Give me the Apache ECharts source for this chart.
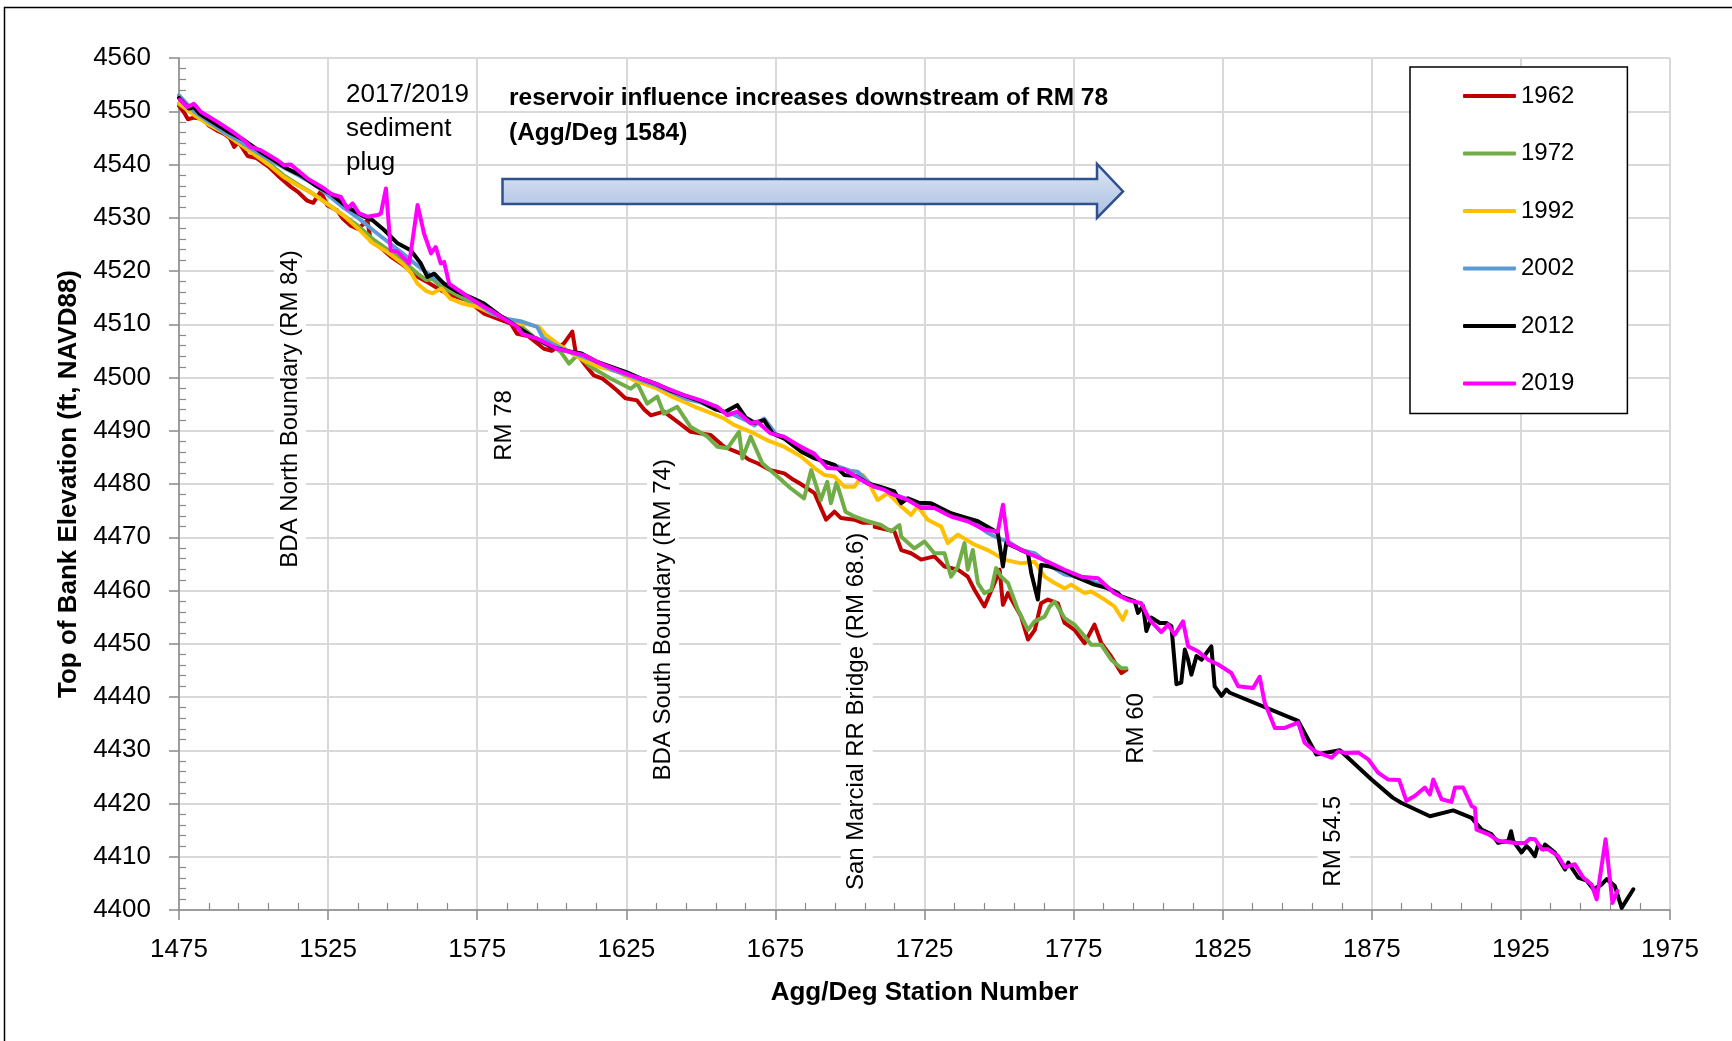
<!DOCTYPE html>
<html>
<head>
<meta charset="utf-8">
<script src="https://cdn.jsdelivr.net/npm/echarts@6/dist/echarts.min.js"></script>
<style>
  html, body { margin: 0; padding: 0; background: #fff; }
  #chart { width: 1732px; height: 1041px; }
</style>
</head>
<body>
<div id="chart"></div>
<script>
// Top-of-bank elevation profiles along the Agg/Deg stations, one array of
// [station, elevation (ft, NAVD88)] pairs per survey year.
const years = ['1962', '1972', '1992', '2002', '2012', '2019'];
const yearColors = ['#c00000', '#70ad47', '#ffc000', '#5b9bd5', '#000000', '#ff00ff'];

const tob1962 = [
  [1475,4551],[1477,4549.5],[1478,4548.5],[1480,4548.8],[1483,4548.6],[1485,4547.3],[1488,4546.3],[1490,4545.8],
  [1492,4545],[1493.5,4543.3],[1495,4544.2],[1498,4541.6],[1501,4541.2],[1505,4539.6],[1508,4538],[1510,4537],
  [1512.5,4535.8],[1515,4534.8],[1518,4533.2],[1520,4532.8],[1522.5,4534.9],[1524.8,4532.3],[1528,4531.4],[1530,4529.8],
  [1532.6,4528.5],[1535,4527.9],[1538.2,4529.5],[1539.3,4525.6],[1542,4524.7],[1546,4522.7],[1550,4521.2],[1555,4518.9],
  [1558,4518],[1562.8,4516.4],[1566,4515.5],[1571.8,4514.5],[1575,4513],[1577.3,4512],[1582,4511],[1586.3,4510.1],
  [1588.4,4508.2],[1592,4507.8],[1597.4,4505.4],[1600,4505],[1604.1,4506.4],[1606.9,4508.6],[1608,4504.8],[1611,4502.5],
  [1614.1,4500.4],[1617,4499.8],[1619.7,4498.6],[1622,4497.5],[1624.7,4496.1],[1628.6,4495.7],[1631,4494],[1633.2,4492.9],
  [1637.6,4493.6],[1642.1,4491.7],[1646.6,4489.8],[1650,4489.5],[1653.3,4489.2],[1657.8,4487],[1663.4,4485.7],[1666,4484.6],
  [1669,4483.9],[1673.4,4482.6],[1678,4482],[1680.5,4481],[1683.5,4480],[1688.1,4478.3],[1689.1,4477],[1692,4473.3],
  [1694.8,4474.8],[1697,4473.6],[1701.5,4473.3],[1706,4472.3],[1710.4,4471.7],[1714.9,4471.1],[1717.2,4467.6],[1720.5,4467],
  [1723.9,4465.8],[1728.3,4466.4],[1731.7,4464.5],[1736.2,4463.9],[1739.5,4462.6],[1741.8,4460.1],[1745.1,4457],[1748.5,4461.4],
  [1750.2,4463.9],[1751.3,4457.3],[1753,4459.5],[1757.4,4455.1],[1759.7,4450.8],[1762,4452.6],[1764.1,4457.6],[1766.4,4458.3],
  [1769.7,4457.6],[1772,4453.9],[1775.3,4452.6],[1778.7,4450.1],[1782,4453.6],[1784.3,4450.1],[1787.6,4447.6],[1791,4444.5],
  [1792.7,4445.1]
];

const tob1972 = [
  [1475,4551.3],[1480,4549.5],[1485,4547.5],[1490,4546],[1495,4544],[1500,4542.5],[1505,4540.3],[1510,4538],
  [1515,4536.2],[1520,4534.5],[1525,4532.5],[1530,4530.5],[1535,4528.5],[1540,4526],[1545,4524],[1550,4522],
  [1555,4519.5],[1558,4518.3],[1560,4518.5],[1563,4517],[1565,4516.5],[1570,4515],[1575,4513.3],[1580,4512.3],
  [1585,4510.8],[1590,4509.5],[1594,4507.6],[1600,4506],[1603,4504.8],[1605.8,4502.6],[1608.6,4504.2],[1613,4502],
  [1619.7,4499.8],[1626.5,4497.9],[1628.7,4498.9],[1632,4495.1],[1635.4,4496.4],[1637.6,4493.2],[1642.1,4494.5],[1646.6,4490.7],
  [1652.2,4488.9],[1655.5,4487],[1658.9,4486.7],[1662.8,4489.8],[1663.9,4484.8],[1666.7,4488.9],[1670.6,4483.9],[1675.7,4481.4],
  [1680.1,4479.2],[1684.6,4477.3],[1687,4482.6],[1690.2,4477],[1692.4,4480.4],[1693.6,4476.4],[1695.5,4480.3],[1698.5,4474.8],
  [1701.5,4473.9],[1706,4473],[1710.4,4472.3],[1713.8,4471.1],[1716.6,4472.3],[1717.2,4470.1],[1721.6,4467.9],[1725,4469.2],
  [1728.3,4467],[1731.7,4467],[1733.9,4462.6],[1736.2,4464.5],[1738.4,4468.9],[1739.5,4463.9],[1741.2,4467.6],[1742.9,4461.4],
  [1745.1,4459.5],[1747.4,4460.1],[1749,4464.2],[1750.7,4462.6],[1753,4461.4],[1756.3,4456.4],[1759.7,4452.6],[1761.9,4454.2],
  [1765.3,4455.1],[1767,4457],[1768.6,4457.9],[1770.3,4456.4],[1772,4454.8],[1775.3,4453.6],[1778.7,4451.4],[1780.9,4449.8],
  [1784.3,4449.8],[1787.6,4447],[1791,4445.4],[1792.7,4445.4]
];

const tob1992 = [
  [1475,4551.5],[1480,4549.3],[1485,4547.5],[1490,4546],[1495,4544],[1500,4542],[1505,4540],[1510,4537.7],
  [1515,4536],[1520,4534.5],[1525,4532.5],[1530,4530.5],[1535,4528],[1540,4525.2],[1545,4523.5],[1550,4521.4],
  [1553,4519.5],[1555,4517.6],[1558,4516.2],[1560,4515.8],[1563,4516.7],[1566,4514.8],[1570,4513.9],[1575,4513.3],
  [1580,4512],[1585,4511],[1588.4,4510.1],[1592,4510],[1595.7,4509.5],[1598,4508],[1601.8,4506.4],[1606,4504.8],
  [1610.8,4503.2],[1616,4502],[1622,4501.1],[1627.6,4499.5],[1635.4,4497.9],[1640,4496.5],[1644.4,4495.4],[1648,4494.5],
  [1652.2,4493.6],[1657.8,4492.3],[1661.1,4491.1],[1666.7,4489.8],[1672.3,4488.2],[1677.9,4487],[1683.5,4485.2],[1688.1,4483],
  [1691.4,4481.7],[1694.8,4481.4],[1698.1,4479.5],[1701.5,4479.5],[1704.3,4481.7],[1706,4480.5],[1709.3,4477],[1712.7,4478.3],
  [1717.2,4475.8],[1720.5,4474.2],[1722.7,4475.8],[1726.1,4473.3],[1730.6,4472],[1732.8,4468.9],[1736.2,4470.5],[1741.8,4468.6],
  [1746.2,4467.6],[1751.8,4465.8],[1757.4,4465.1],[1761.9,4465.4],[1765.3,4462.6],[1768.6,4461.4],[1772,4460.4],[1774.2,4461.1],
  [1778.7,4459.5],[1780.9,4459.8],[1785.4,4458.3],[1788.7,4457],[1791.5,4454.5],[1792.7,4456.1]
];

const tob2002 = [
  [1475,4553],[1480,4550],[1485,4548],[1490,4546.1],[1495,4544.5],[1500,4542.7],[1505,4541],[1510,4539.5],
  [1515,4538],[1520,4536.4],[1525,4534.3],[1530,4532],[1535,4530],[1540,4527.7],[1545,4525.5],[1550,4523.3],
  [1555,4521],[1560,4518.9],[1565,4517.3],[1570,4515.8],[1575,4514],[1580,4512],[1585,4511],[1590,4510.5],
  [1595.1,4509.5],[1597,4507.5],[1600,4506.4],[1605,4505],[1610,4504],[1615,4503],[1620,4501.5],[1625,4500.5],
  [1630,4499.5],[1635,4498.5],[1640,4497.3],[1645,4496],[1650,4495.3],[1655,4494],[1660,4493.3],[1665,4492],
  [1668,4491],[1671.2,4492.3],[1675,4489.5],[1680,4488],[1685,4486.5],[1690,4484.5],[1695,4483.5],[1700,4482.5],
  [1702.6,4482.3],[1705,4481],[1708,4479.5],[1711.6,4479.2],[1715,4478],[1720,4477],[1724,4476],[1728.3,4476.1],
  [1732,4474.5],[1737,4473.5],[1742,4472.5],[1746.2,4470.8],[1750,4469.8],[1753,4469.2],[1757.4,4467.6],[1761.9,4467],
  [1766,4465.3],[1769,4464],[1772,4463],[1778.7,4462.3],[1784.3,4461.1],[1789.9,4459.5]
];

const tob2012 = [
  [1475,4552.5],[1478.4,4550.5],[1480,4550.8],[1482,4549.5],[1487.9,4547.4],[1492,4546],[1496.8,4544.6],[1502,4542.5],
  [1506.9,4540.8],[1511,4539.3],[1515.8,4538],[1521,4536],[1525.9,4534.5],[1531.5,4532],[1537.1,4530.2],[1540,4529.5],
  [1543.8,4527.7],[1548.3,4525.2],[1552.7,4523.9],[1556.1,4521.4],[1558.3,4518.9],[1560.6,4519.5],[1563.9,4517.6],[1568.4,4516.1],
  [1573,4515],[1577.3,4513.9],[1583,4511.5],[1588.5,4509.5],[1594,4507.5],[1599.7,4505.8],[1605,4505],[1610,4504.5],
  [1615,4503],[1620,4502],[1625,4501],[1630,4499.8],[1635,4498.8],[1640,4497.5],[1645,4496.5],[1650,4495.5],
  [1655,4494],[1658,4493.5],[1662.2,4494.8],[1665,4492.5],[1668,4491.5],[1671.2,4492],[1674,4489.5],[1678,4488.5],
  [1683.6,4486.1],[1688.1,4484.8],[1694.8,4483.6],[1698.1,4481.7],[1702,4481.5],[1706,4480.1],[1710,4479.5],[1714.9,4478.6],
  [1717.2,4476.4],[1719.4,4477.3],[1723,4476.5],[1727.2,4476.4],[1733.9,4474.5],[1738,4473.8],[1742.9,4473],[1747.9,4471.4],
  [1749.6,4470.8],[1751.3,4464.5],[1752.4,4468.9],[1756,4468],[1759.7,4467],[1760.8,4463.3],[1763,4458.3],[1764.1,4464.8],
  [1767,4464.5],[1770.9,4463.9],[1776,4462.5],[1782,4461.1],[1786,4460.5],[1789.9,4459.5],[1791,4458.9],[1795.5,4458],
  [1796.6,4455.8],[1798.3,4457.1],[1799.4,4452.4],[1801.1,4454.9],[1803.9,4453.9],[1806.1,4453.9],[1807.8,4453.3],[1809.5,4442.4],
  [1811.1,4442.7],[1812.3,4448.9],[1813.4,4447],[1814.5,4444.2],[1816.2,4447.7],[1817.9,4447],[1821.2,4449.5],[1822.3,4442],
  [1824.6,4440.2],[1826.2,4441.4],[1827.4,4440.8],[1850.3,4435.5],[1856.4,4429.2],[1864.3,4430],[1874.9,4424.5],[1882,4421.1],
  [1885,4420.1],[1894.5,4417.6],[1902.3,4418.7],[1908.5,4417.3],[1911.8,4415.1],[1915.2,4414.2],[1917.4,4412.6],[1920.8,4413],
  [1921.7,4414.8],[1922.4,4413],[1925.2,4410.8],[1926.9,4412],[1928,4411.4],[1929.7,4410.1],[1930.8,4412.3],[1932.5,4411.4],
  [1933.1,4412.3],[1936.4,4410.8],[1939.8,4407.6],[1940.9,4408.9],[1944.2,4406.1],[1947.1,4405.5],[1949.3,4403.9],[1952.1,4404.8],
  [1953.8,4405.8],[1956.5,4404.5],[1958.8,4400.4],[1962.7,4403.9]
];

const tob2019 = [
  [1475.3,4552.2],[1477.8,4550.8],[1480,4551.4],[1482.3,4549.9],[1487.9,4548],[1492.3,4546.4],[1496.8,4544.6],[1499,4543.3],
  [1502.4,4542.7],[1508,4540.8],[1510.2,4539.9],[1512.5,4540],[1518,4537.4],[1523.7,4535.5],[1525.9,4534.5],[1529.3,4533.9],
  [1531.5,4531.7],[1533.2,4532.7],[1535.4,4530.8],[1538.2,4530.2],[1541.6,4530.5],[1542.7,4530.8],[1544.4,4535.5],[1546,4523.9],
  [1548.3,4523.6],[1552.2,4521.4],[1555,4532.4],[1557.2,4527],[1559.5,4523.3],[1561.1,4524.5],[1562.8,4521.4],[1563.9,4521.7],
  [1565.6,4517.6],[1569.5,4516.1],[1572.9,4514.8],[1577.3,4513.3],[1579.6,4512.6],[1582.9,4511.4],[1588.5,4509.5],[1590.1,4508.2],
  [1595.1,4507.3],[1599.7,4506],[1601.8,4505.4],[1606.3,4504.8],[1610.8,4504.2],[1616.4,4502.6],[1622,4501.4],[1626.5,4500.4],
  [1633.2,4499.2],[1638.8,4497.9],[1644.4,4496.7],[1650,4495.7],[1655.5,4494.5],[1658.9,4492.9],[1662.2,4493.6],[1666.7,4491.4],
  [1668.9,4491.7],[1673.4,4489.5],[1677.9,4488.9],[1683.5,4487],[1688,4485.7],[1692.4,4483],[1698,4482.8],[1703.7,4480.8],
  [1708.1,4479.5],[1711.6,4478.9],[1713.7,4478.2],[1719.4,4477],[1723.9,4475.5],[1728.3,4475.5],[1733.9,4473.9],[1739.5,4473],
  [1745.1,4471.4],[1749.6,4471.1],[1751.3,4476.1],[1753,4468.9],[1759.7,4467],[1766.4,4465.4],[1772,4463.9],[1777.6,4462.6],
  [1783.2,4462.3],[1788.7,4459.5],[1793.2,4458.2],[1797.7,4457.6],[1800.5,4454.5],[1804.4,4452.2],[1806.7,4453.6],[1808.9,4451.7],
  [1811.7,4454.2],[1813.4,4449.5],[1816.7,4448.6],[1820.1,4447],[1823.5,4446.1],[1827.9,4444.5],[1830.2,4442],[1835.2,4441.7],
  [1837.4,4443.8],[1839.1,4438.9],[1842.5,4434.2],[1845.8,4434.2],[1850.3,4435.2],[1852.5,4431.4],[1855.9,4429.8],[1861.5,4428.6],
  [1863.7,4429.8],[1866,4429.5],[1870.4,4429.6],[1873.8,4428.3],[1877.1,4425.8],[1880.5,4424.5],[1884.2,4424.4],[1886.6,4420.5],
  [1889.4,4421.4],[1892.8,4423],[1894.5,4421.7],[1895.6,4424.5],[1898.4,4420.8],[1901.7,4420.3],[1902.9,4423],[1905.6,4423],
  [1908.5,4419.5],[1909.6,4419.2],[1910.1,4415.1],[1914.2,4414.2],[1917.4,4413],[1923,4412.6],[1926.4,4412.6],[1928,4413.4],
  [1929.7,4413.3],[1932,4411.4],[1934.2,4411.4],[1937.5,4410.1],[1939.8,4408],[1943.1,4408.6],[1945.9,4406.1],[1948.7,4404.8],
  [1950.4,4402],[1953.4,4413.3],[1955.7,4401.3],[1957.4,4403.6]
];

const profiles = [tob1962, tob1972, tob1992, tob2002, tob2012, tob2019];

// Axis ranges
const stationRange = [1475, 1975];
const stationStep = 50;
const elevRange = [4400, 4560];
const elevStep = 10;

// River-mile reference notes placed at [station, elevation]
const riverNotes = [
  { text: 'BDA North Boundary (RM 84)', at: [1512.2, 4494.1] },
  { text: 'RM 78', at: [1584, 4491] },
  { text: 'BDA South Boundary (RM 74)', at: [1637.3, 4454.5] },
  { text: 'San Marcial RR Bridge (RM 68.6)', at: [1702.3, 4437.3] },
  { text: 'RM 60', at: [1796.2, 4434.1] },
  { text: 'RM 54.5', at: [1862.2, 4412.9] }
];

const FONT = '"Liberation Sans", Arial, sans-serif';
const AXIS_GRAY = '#898989';
const GRID_GRAY = '#d9d9d9';

const chart = echarts.init(document.getElementById('chart'), null, { renderer: 'canvas' });

function axisCommon() {
  return {
    axisLine: { show: true, onZero: false, lineStyle: { color: AXIS_GRAY, width: 1.5 } },
    axisTick: { show: true, length: 10, lineStyle: { color: AXIS_GRAY, width: 1.5 } },
    minorTick: { show: true, splitNumber: 5, length: -7, lineStyle: { color: AXIS_GRAY, width: 1.2 } },
    splitLine: { show: true, lineStyle: { color: GRID_GRAY, width: 2 } },
    axisLabel: { color: '#000', fontSize: 26, fontFamily: FONT, formatter: v => String(v) }
  };
}

const xAxis = Object.assign(axisCommon(), {
  type: 'value',
  min: stationRange[0], max: stationRange[1], interval: stationStep,
  name: 'Agg/Deg Station Number',
  nameLocation: 'middle',
  nameGap: 70,
  nameTextStyle: { color: '#000', fontSize: 26, fontWeight: 'bold', fontFamily: FONT }
});
xAxis.axisLabel.margin = 27;

const yAxis = Object.assign(axisCommon(), {
  type: 'value',
  min: elevRange[0], max: elevRange[1], interval: elevStep,
  name: 'Top of Bank Elevation (ft, NAVD88)',
  nameLocation: 'middle',
  nameGap: 91,
  nameTextStyle: { color: '#000', fontSize: 26, fontWeight: 'bold', fontFamily: FONT }
});
yAxis.axisLabel.margin = 28;

chart.setOption({
  animation: false,
  backgroundColor: '#fff',
  textStyle: { fontFamily: FONT },
  grid: { left: 179, top: 58, width: 1491, height: 852 },
  xAxis: xAxis,
  yAxis: yAxis,
  legend: {
    orient: 'vertical',
    left: 1410, top: 67,
    padding: [17, 53, 18, 53],
    itemGap: 33.5,
    itemWidth: 53, itemHeight: 4,
    icon: 'roundRect',
    selectedMode: false,
    borderColor: '#000', borderWidth: 1.5,
    backgroundColor: '#fff',
    textStyle: { color: '#000', fontSize: 24, fontFamily: FONT },
    data: years
  },
  series: years.map((y, i) => ({
    name: y,
    type: 'line',
    data: profiles[i],
    symbol: 'none',
    showSymbol: false,
    color: yearColors[i],
    lineStyle: { color: yearColors[i], width: 4, join: 'round', cap: 'round' }
  }))
});

// Annotations: outer frame, text notes, rotated river-mile labels, arrow
const graphics = [
  {
    type: 'rect', silent: true, z: 0,
    shape: { x: 4.5, y: 7.5, width: 1800, height: 1100 },
    style: { fill: 'none', stroke: '#000', lineWidth: 1.5 }
  },
  {
    type: 'text', left: 346, top: 78, z: 100,
    style: { text: '2017/2019\nsediment\nplug', fill: '#000', font: '26px ' + FONT, lineHeight: 34 }
  },
  {
    type: 'text', left: 509, top: 81, z: 100,
    style: { text: 'reservoir influence increases downstream of RM 78\n(Agg/Deg 1584)', fill: '#000', font: 'bold 24.5px ' + FONT, lineHeight: 35 }
  },
  {
    type: 'polygon', z: 100,
    shape: { points: [[502.5, 179], [1097, 179], [1097, 164], [1123, 191.5], [1097, 218], [1097, 204], [502.5, 204]] },
    style: {
      fill: new echarts.graphic.LinearGradient(0, 0, 0, 1, [
        { offset: 0, color: '#dfe7f5' }, { offset: 1, color: '#a9bfe2' }
      ]),
      stroke: '#2f528f', lineWidth: 2.5
    }
  }
];

riverNotes.forEach(n => {
  const p = chart.convertToPixel({ gridIndex: 0 }, n.at);
  graphics.push({
    type: 'text', z: 50,
    x: p[0], y: p[1],
    rotation: Math.PI / 2,
    style: {
      text: n.text, fill: '#000', font: '24px ' + FONT,
      align: 'center', verticalAlign: 'middle',
      backgroundColor: '#fff', padding: [4, 8, 4, 8]
    }
  });
});

chart.setOption({ graphic: graphics });
</script>
</body>
</html>
